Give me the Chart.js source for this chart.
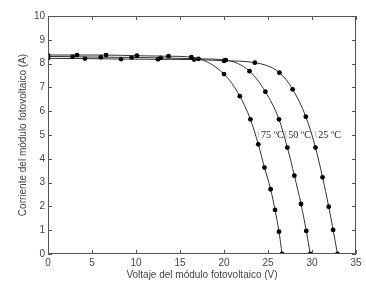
<!DOCTYPE html>
<html>
<head>
<meta charset="utf-8">
<script src="https://cdn.jsdelivr.net/npm/chart.js@4"></script>
<style>
  html,body{margin:0;padding:0;background:#fff;}
  #wrap{width:366px;height:281px;}
</style>
</head>
<body>
<div id="wrap"><canvas id="c" width="366" height="281"></canvas></div>
<script>
// I-V curves of a PV module at three temperatures
const V75=[0,3.3,6.6,10.1,13.7,16.3,20.0,21.8,23.0,23.9,24.6,25.3,25.8,26.25,26.6];
const I75=[8.36,8.36,8.36,8.33,8.31,8.27,7.56,6.63,5.66,4.61,3.63,2.72,1.85,0.94,0];
const V50=[0,2.8,6.0,9.5,12.8,17.1,20.2,22.9,24.7,26.25,27.2,28.0,28.75,29.35,29.8];
const I50=[8.3,8.29,8.27,8.26,8.24,8.2,8.15,7.68,6.82,5.66,4.47,3.29,2.1,0.97,0];
const V25=[0,4.2,8.3,12.5,16.6,20.0,23.5,26.3,27.8,29.3,30.4,31.2,31.9,32.4,32.9];
const I25=[8.22,8.21,8.19,8.18,8.17,8.12,8.04,7.62,6.92,5.77,4.47,3.22,1.99,1.01,0];
const X_TICKS=[0,5,10,15,20,25,30,35];
const Y_TICKS=[0,1,2,3,4,5,6,7,8,9,10];
const LABELS=[['75',24.2],['50',27.3],['25',30.7]];
const LABEL_I=5.0;

const INK='#333', TXT='#444';
const pts=(v,i)=>v.map((x,k)=>({x:x,y:i[k]}));
const ds=(v,i)=>({data:pts(v,i),showLine:true,borderColor:INK,borderWidth:1,
  pointRadius:2.4,pointBackgroundColor:'#000',pointBorderWidth:0,
  cubicInterpolationMode:'monotone'});

const frame={id:'frame',afterDraw(ch){
  const c=ch.ctx,a=ch.chartArea,x=ch.scales.x,y=ch.scales.y;
  c.save();c.strokeStyle='#555';c.lineWidth=1;
  c.strokeRect(a.left+0.5,a.top+0.5,a.right-a.left-1,a.bottom-a.top-1);
  c.beginPath();
  X_TICKS.forEach(t=>{const p=Math.round(x.getPixelForValue(t))+0.5;
    c.moveTo(p,a.bottom);c.lineTo(p,a.bottom-4);c.moveTo(p,a.top);c.lineTo(p,a.top+4);});
  Y_TICKS.forEach(t=>{const p=Math.round(y.getPixelForValue(t))+0.5;
    c.moveTo(a.left,p);c.lineTo(a.left+4,p);c.moveTo(a.right,p);c.lineTo(a.right-4,p);});
  c.stroke();
  // temperature labels with faint leader marks
  c.fillStyle='#222';c.textBaseline='middle';c.strokeStyle='#bbb';
  LABELS.forEach(([t,v])=>{
    const px=x.getPixelForValue(v),py=y.getPixelForValue(LABEL_I);
    c.beginPath();c.moveTo(px-3,py-4);c.lineTo(px-2,py+3);c.stroke();
    c.font='10px "Liberation Serif"';c.textAlign='left';
    const w=c.measureText(t+' ').width;
    c.fillText(t+' ',px,py);
    c.font='7px "Liberation Serif"';c.fillText('o',px+w,py-3);
    c.font='10px "Liberation Serif"';c.fillText('C',px+w+3.5,py);
  });
  c.restore();
}};

new Chart(document.getElementById('c'),{
  type:'scatter',
  data:{datasets:[ds(V75,I75),ds(V50,I50),ds(V25,I25)]},
  options:{animation:false,responsive:false,
    layout:{padding:{top:16,right:10,left:12,bottom:0}},
    plugins:{legend:{display:false},tooltip:{enabled:false}},
    scales:{
      x:{type:'linear',min:0,max:35,afterBuildTicks:s=>{s.ticks=X_TICKS.map(v=>({value:v}));},
        afterFit:s=>{s.height=27;},
        grid:{display:false,drawTicks:false},border:{display:false},
        ticks:{color:TXT,font:{family:'Liberation Sans',size:10},padding:3,maxRotation:0},
        title:{display:true,text:'Voltaje del módulo fotovoltaico (V)',color:TXT,
          font:{family:'Liberation Sans',size:10},padding:{top:0,bottom:0}}},
      y:{type:'linear',min:0,max:10,afterBuildTicks:s=>{s.ticks=Y_TICKS.map(v=>({value:v}));},
        afterFit:s=>{s.width=36;},
        grid:{display:false,drawTicks:false},border:{display:false},
        ticks:{color:TXT,font:{family:'Liberation Sans',size:10},padding:3},
        title:{display:true,text:'Corriente del módulo fotovoltaico (A)',color:TXT,
          font:{family:'Liberation Sans',size:10},padding:{top:5,bottom:0}}}
    }},
  plugins:[frame]
});
</script>
</body>
</html>
